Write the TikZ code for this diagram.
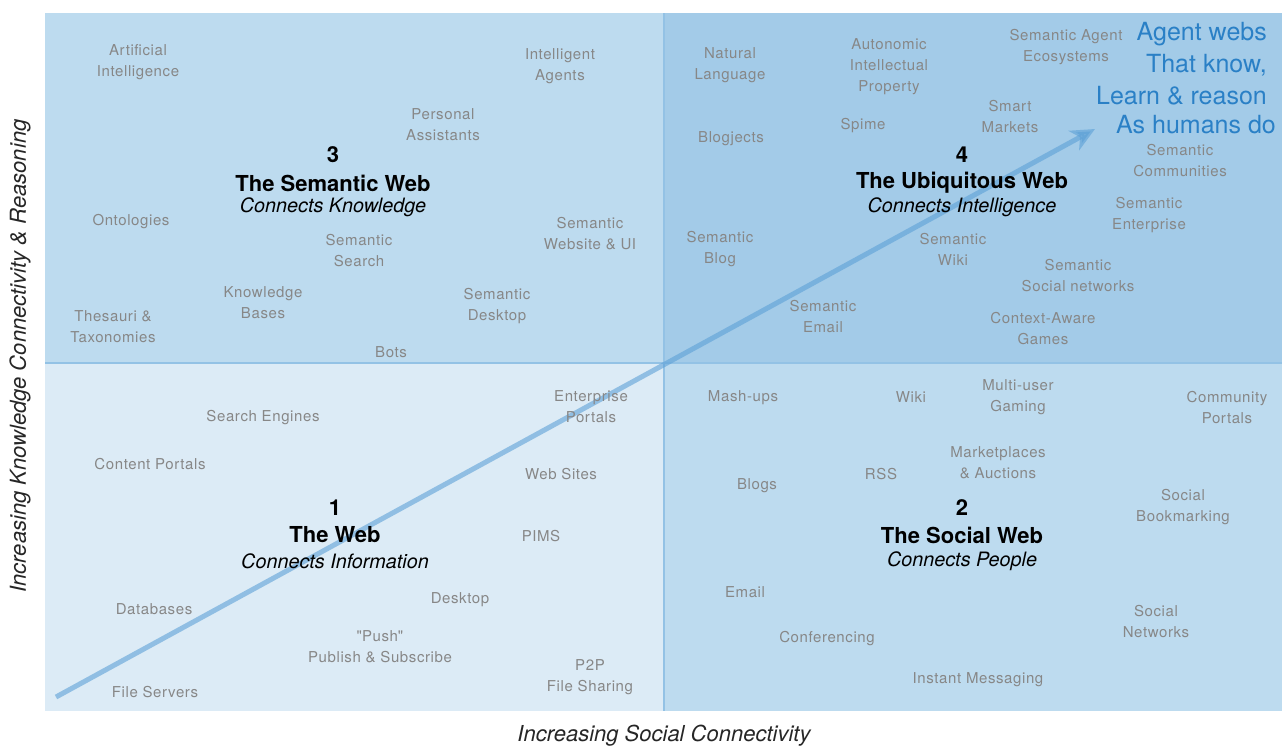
\documentclass[tikz,border=0pt]{standalone}
\usepackage{fontspec}
\setmainfont{TeX Gyre Heros}
\usetikzlibrary{arrows.meta}
\definecolor{qone}{HTML}{DCEBF6}
\definecolor{qtwo}{HTML}{BDDBEF}
\definecolor{qthree}{HTML}{BDDBEF}
\definecolor{qfour}{HTML}{A3CBE8}
\definecolor{divline}{HTML}{93C2E5}
\definecolor{arrowblue}{HTML}{5A9FD6}
\definecolor{labelgray}{HTML}{878787}
\definecolor{agentblue}{HTML}{2A80C6}
\tikzset{
  lbl/.style={text=labelgray, font=\fontsize{15}{21}\selectfont\addfontfeatures{LetterSpace=4}, align=center, inner sep=0pt, yshift=-1.5pt},
  qnum/.style={text=black, font=\fontsize{22}{26}\selectfont\bfseries, inner sep=0pt},
  qtitle/.style={text=black, font=\fontsize{22}{26}\selectfont\bfseries, inner sep=0pt},
  qsub/.style={text=black, font=\fontsize{19.8}{23}\selectfont\itshape, inner sep=0pt},
  agent/.style={text=agentblue, font=\fontsize{25}{30}\selectfont, inner sep=0pt, anchor=east, yshift=-1.5pt},
  axis/.style={text=black!85, font=\fontsize{22}{26}\selectfont\itshape, inner sep=0pt}
}
\begin{document}
\begin{tikzpicture}[x=1pt,y=-1pt]
\useasboundingbox (0,0) rectangle (1282,747);
% quadrants
\fill[qthree] (45,13) rectangle (664,363);
\fill[qfour] (664,13) rectangle (1282,363);
\fill[qone] (45,363) rectangle (664,711);
\fill[qtwo] (664,363) rectangle (1282,711);
\draw[divline, line width=2pt] (45,363) -- (1282,363);
\draw[divline, line width=2pt] (664,13) -- (664,711);
% arrow
\coordinate (astart) at (56,697);
\coordinate (aend) at (1095,129);
\draw[arrowblue, opacity=0.58, line width=5pt, -{Stealth[length=24pt,width=22pt,inset=7pt]}] (astart) -- (aend);
% Quadrant 3
\node[lbl] (ai) at (138,61) {Artificial\\Intelligence};
\node[lbl] (ia) at (560,65) {Intelligent\\Agents};
\node[lbl] (pa) at (443,123) {Personal\\Assistants};
\node[lbl] (onto) at (131,220) {Ontologies};
\node[lbl] (ssearch) at (359,249) {Semantic\\Search};
\node[lbl] (sweb) at (590,232) {Semantic\\Website \& UI};
\node[lbl] (kb) at (263,301) {Knowledge\\Bases};
\node[lbl] (thes) at (113,325) {Thesauri \&\\Taxonomies};
\node[lbl] (sdesk) at (497,305) {Semantic\\Desktop};
\node[lbl] (bots) at (391,351) {Bots};
\node[qnum] (n3) at (333,155) {3};
\node[qtitle] (t3) at (333,183) {The Semantic Web};
\node[qsub] (s3) at (333,207) {Connects Knowledge};
% Quadrant 4
\node[lbl] (nl) at (730,64) {Natural\\Language};
\node[lbl] (aip) at (889,65) {Autonomic\\Intellectual\\Property};
\node[lbl] (sae) at (1066,46) {Semantic Agent\\Ecosystems};
\node[lbl] (sm) at (1010,115) {Smart\\Markets};
\node[lbl] (spime) at (863,124) {Spime};
\node[lbl] (blogj) at (731,137) {Blogjects};
\node[lbl] (scom) at (1180,159) {Semantic\\Communities};
\node[lbl] (sent) at (1149,214) {Semantic\\Enterprise};
\node[lbl] (sblog) at (720,248) {Semantic\\Blog};
\node[lbl] (swiki) at (953,248) {Semantic\\Wiki};
\node[lbl] (ssn) at (1078,274) {Semantic\\Social networks};
\node[lbl] (semail) at (823,315) {Semantic\\Email};
\node[lbl] (cag) at (1043,327) {Context-Aware\\Games};
\node[qnum] (n4) at (962,155) {4};
\node[qtitle] (t4) at (962,183) {The Ubiquitous Web};
\node[qsub] (s4) at (962,207) {Connects Intelligence};
\node[agent] (ag1) at (1267,33) {Agent webs};
\node[agent] (ag2) at (1267,64) {That know,};
\node[agent] (ag3) at (1267,94) {Learn \& reason};
\node[agent] (ag4) at (1276,123) {As humans do};
% Quadrant 1
\node[lbl] (se) at (263,416) {Search Engines};
\node[lbl] (cp) at (150,463) {Content Portals};
\node[lbl] (ep) at (591,405) {Enterprise\\Portals};
\node[lbl] (ws) at (561,473) {Web Sites};
\node[lbl] (pims) at (541,535) {PIMS};
\node[lbl] (db) at (154,608) {Databases};
\node[lbl] (desk) at (460,598) {Desktop};
\node[lbl] (push) at (380,645) {\textquotedbl Push\textquotedbl\\Publish \& Subscribe};
\node[lbl] (p2p) at (590,676) {P2P\\File Sharing};
\node[lbl] (fs) at (155,691) {File Servers};
\node[qnum] (n1) at (335,508) {1};
\node[qtitle] (t1) at (335,535) {The Web};
\node[qsub] (s1) at (335,561) {Connects Information};
% Quadrant 2
\node[lbl] (mash) at (743,396) {Mash-ups};
\node[lbl] (wiki) at (911,396) {Wiki};
\node[lbl] (mug) at (1018,396) {Multi-user\\Gaming};
\node[lbl] (comp) at (1227,406) {Community\\Portals};
\node[lbl] (mkt) at (998,461) {Marketplaces\\\& Auctions};
\node[lbl] (rss) at (881,473) {RSS};
\node[lbl] (blogs) at (757,484) {Blogs};
\node[lbl] (sbm) at (1183,506) {Social\\Bookmarking};
\node[lbl] (email) at (745,591) {Email};
\node[lbl] (conf) at (827,637) {Conferencing};
\node[lbl] (snet) at (1156,620) {Social\\Networks};
\node[lbl] (im) at (978,678) {Instant Messaging};
\node[qnum] (n2) at (962,508) {2};
\node[qtitle] (t2) at (962,535) {The Social Web};
\node[qsub] (s2) at (962,561) {Connects People};
% axes
\node[axis] (xaxis) at (664,736) {Increasing Social Connectivity};
\node[axis, rotate=90] (yaxis) at (20,356) {Increasing Knowledge Connectivity \& Reasoning};
\end{tikzpicture}
\end{document}
